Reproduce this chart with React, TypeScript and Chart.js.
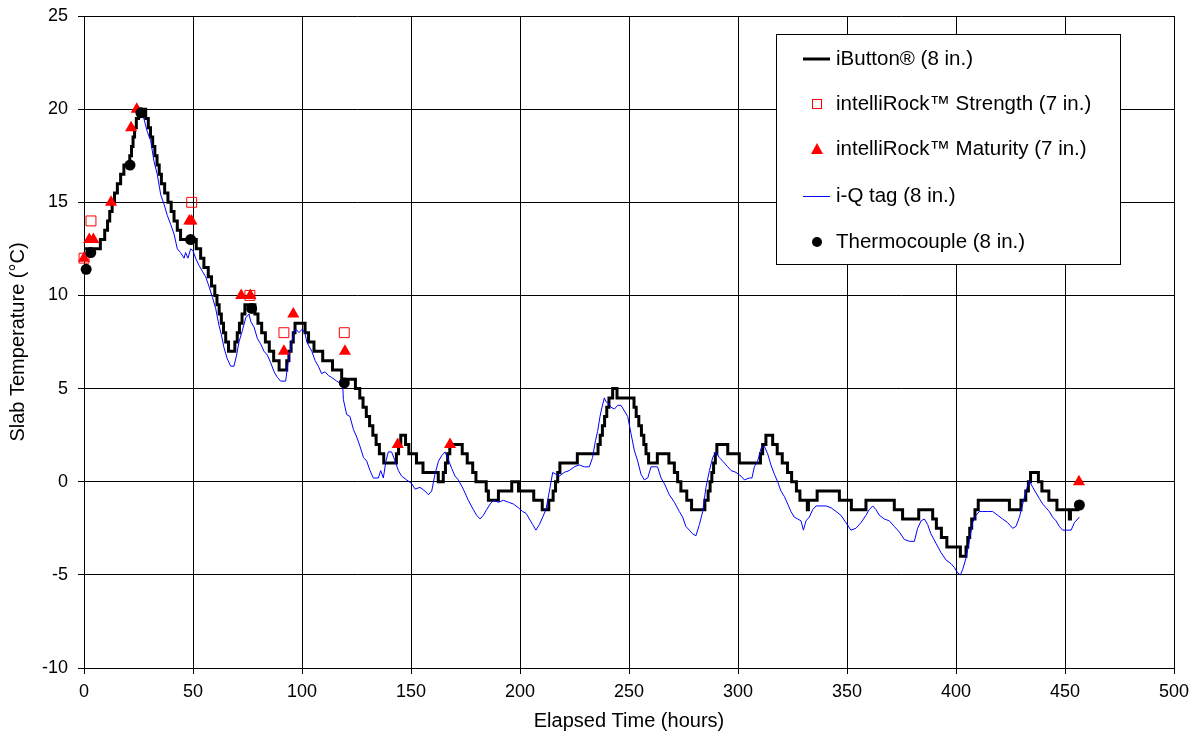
import React, { useEffect, useRef } from 'react';
import { Chart, registerables } from 'chart.js';

Chart.register(...registerables);

const FONT = 'Arial, "Liberation Sans", sans-serif';

// ---- Axis ranges / ticks ----
const xRange = [0, 500];
const xStep = 50;
const yRange = [-10, 25];
const yStep = 5;

// ---- Series names ----
const seriesNames = [
  'iButton® (8 in.)',
  'intelliRock™ Strength (7 in.)',
  'intelliRock™ Maturity (7 in.)',
  'i-Q tag (8 in.)',
  'Thermocouple (8 in.)',
];

// iButton (8 in.) — step changes: [hour, °C] (value held until next hour)
const iButtonSteps: [number, number][] = [
  [0.5, 12.5], [7.5, 13], [9.5, 13.5], [10.8, 14], [11.8, 14.5], [12.9, 15], [14, 15.5], [15.3, 16],
  [16.8, 16.5], [18.3, 17], [21, 17.5], [21.8, 18], [22.5, 18.5], [23.2, 19], [24, 19.5], [25, 20],
  [28.3, 19.5], [29.5, 19], [30.5, 18.5], [31.5, 18], [32.5, 17.5], [33.5, 17], [34.5, 16.5], [35.5, 16],
  [37, 15.5], [38.5, 15], [40, 14.5], [41.3, 14], [42.8, 13.5], [44.3, 13], [51.5, 12.5], [53.5, 12],
  [55, 11.5], [57, 11], [58.5, 10.5], [60, 10], [61, 9.5], [62, 9], [63, 8.5], [64, 8], [65, 7.5],
  [66.3, 7], [69.2, 7.5], [70.3, 8], [71.3, 8.5], [72.5, 9], [73.8, 9.5], [78.4, 9], [79.8, 8.5],
  [81.5, 8], [83.2, 7.5], [85, 7], [87, 6.5], [89.5, 6], [93, 6.5], [94, 7], [95, 7.5], [96, 8],
  [96.8, 8.5], [101.4, 8], [103, 7.5], [105.5, 7], [109.5, 6.5], [114, 6], [118.2, 5.5], [124.5, 5],
  [126.5, 4.5], [128, 4], [129.5, 3.5], [131, 3], [132.5, 2.5], [134, 2], [135.5, 1.5], [137.5, 1],
  [143.3, 1.5], [144.3, 2], [145.3, 2.5], [147.5, 2], [149, 1.5], [152.5, 1], [155.5, 0.5], [162.5, 0],
  [164.8, 0.5], [165.8, 1], [166.8, 1.5], [167.8, 2], [173.5, 1.5], [175.8, 1], [178.3, 0.5], [179.8, 0],
  [184.5, -0.5], [185.5, -1], [190.1, -0.5], [196.2, 0], [199.3, -0.5], [206.3, -1], [210.2, -1.5],
  [213.2, -1], [215.2, -0.5], [216.3, 0], [217.3, 0.5], [218.3, 1], [226.3, 1.5], [235.8, 2], [236.8, 2.5],
  [237.8, 3], [238.8, 3.5], [239.8, 4], [240.8, 4.5], [242.5, 5], [244.5, 4.5], [252.3, 4], [253.3, 3.5],
  [254.5, 3], [255.7, 2.5], [256.8, 2], [257.8, 1.5], [259, 1], [263, 1.5], [268.3, 1], [270.8, 0.5],
  [272.3, 0], [273.8, -0.5], [276.5, -1], [278.7, -1.5], [284.8, -1], [286.3, -0.5], [287.2, 0],
  [288, 0.5], [288.8, 1], [289.6, 1.5], [290.3, 2], [295.3, 1.5], [300.6, 1], [310.3, 1.5], [311.3, 2],
  [312.8, 2.5], [315.9, 2], [318, 1.5], [320.3, 1], [322.7, 0.5], [324.6, 0], [326.8, -0.5], [328.4, -1],
  [331.8, -1.5], [332.3, -1], [336.3, -0.5], [346.5, -1], [352, -1.5], [358.7, -1], [371.7, -1.5],
  [375.5, -2], [382.9, -1.5], [389.3, -2], [391, -2.5], [393.3, -3], [395.8, -3.5], [402, -4],
  [404.6, -3.5], [405.4, -3], [406.3, -2.5], [407.2, -2], [408.7, -1.5], [410.2, -1], [424.5, -1.5],
  [429.8, -1], [432, -0.5], [433.2, 0], [434.2, 0.5], [437.8, 0], [439.4, -0.5], [442.6, -1],
  [446.3, -1.5], [452, -2], [452.5, -1.5], [456.6, -1.5],
];

// intelliRock Strength (7 in.) — [hour, °C]
const strengthPoints: [number, number][] = [
  [0, 12], [3.2, 14], [49.4, 15], [76.1, 10], [91.7, 8], [119.4, 8],
];

// intelliRock Maturity (7 in.) — [hour, °C]
const maturityPoints: [number, number][] = [
  [0, 12], [2.4, 13], [4.3, 13], [12.4, 15], [21.6, 19], [24.2, 20], [48.3, 14], [49.3, 14],
  [72.1, 10], [76.3, 10], [91.7, 7], [96, 9], [119.7, 7], [143.9, 2], [167.9, 2], [456.4, 0],
];

// i-Q tag (8 in.) — [hour, °C]
const iqTagPoints: [number, number][] = [
  [27, 19.7], [29, 18.8], [30.6, 18.3], [32.1, 17.2], [33.6, 16.5], [35.2, 15.4], [36.7, 14.9],
  [38.2, 14.3], [39.8, 13.8], [41.3, 13.3], [42.8, 12.5], [44.3, 12.3], [45.9, 12.0], [46.6, 12.3],
  [47.7, 12.0], [48.9, 12.5], [50, 12.4], [51.2, 12.0], [52.8, 11.6], [54.3, 11.3], [55.8, 11.0],
  [57.3, 10.5], [58.9, 9.9], [60.4, 9.3], [61.9, 8.4], [63, 7.9], [64.2, 7.2], [65.7, 6.6], [67.3, 6.2],
  [68.8, 6.2], [70, 6.8], [71.1, 7.5], [72.6, 8.1], [74.2, 8.8], [75.7, 9.0], [76.5, 8.6], [78, 8.3],
  [79.5, 7.7], [81, 7.4], [82.6, 7.0], [84.1, 6.8], [85.6, 6.4], [87.2, 5.9], [88.7, 5.6], [90.2, 5.4],
  [92.5, 5.4], [93.6, 6.4], [94.8, 7.2], [96, 7.9], [97.1, 8.2], [98.6, 8.0], [100.2, 8.2], [101.5, 7.9],
  [102.2, 7.5], [104.5, 7.0], [106, 6.5], [107.5, 6.2], [109, 5.8], [110.6, 5.9], [112.1, 5.7],
  [113.6, 5.6], [115.9, 5.4], [117.4, 5.3], [118.7, 5.1], [119, 4.4], [120.5, 3.6], [122, 3.5],
  [123.6, 2.8], [125.1, 2.4], [126.6, 1.9], [128.2, 1.3], [129.7, 1.1], [131.2, 0.6], [132.7, 0.2],
  [135, 0.2], [136.1, 0.6], [137.3, 0.2], [138.5, 1.1], [139.6, 1.6], [141.1, 1.6], [142.7, 1.1],
  [144.2, 0.6], [145.7, 0.3], [148, 0.1], [150.3, -0.1], [151.9, -0.4], [154.1, -0.3], [156.4, -0.5],
  [158, -0.7], [159.5, -0.5], [161, 0.4], [162.6, 1.1], [164.1, 1.4], [165.6, 1.6], [167.1, 1.2],
  [168.7, 0.7], [170.2, 0.3], [171.7, 0.1], [174, -0.4], [176.3, -1.0], [178.6, -1.5], [180.1, -1.8],
  [181.7, -2.0], [183.2, -1.8], [184.7, -1.5], [186.3, -1.2], [187.8, -1.0], [190.1, -1.1], [192.4, -1.0],
  [194.7, -1.1], [197, -1.2], [199.3, -1.4], [201.2, -1.6], [202.8, -1.7], [204.3, -2.0], [205.8, -2.3],
  [207.3, -2.6], [208.9, -2.3], [210.4, -1.9], [211.9, -1.5], [213.5, -0.5], [215, 0.5], [216.5, 0.4],
  [218, 0.3], [220.3, 0.5], [222.6, 0.6], [224.9, 0.8], [227.2, 0.9], [229.5, 0.8], [231.8, 0.8],
  [233.3, 1.3], [234.6, 2.2], [235.6, 2.7], [236.7, 3.5], [237.6, 4.0], [238.7, 4.5], [239.4, 4.3],
  [240.7, 4.2], [241.7, 4.0], [243.3, 3.9], [244.8, 4.1], [246.3, 4.1], [247.9, 3.8], [249.4, 3.5],
  [250.9, 2.6], [252.4, 1.7], [254, 1.1], [255.5, 0.4], [257, 0.1], [258.6, 0.2], [260.1, 0.8],
  [261.6, 0.8], [263.1, 0.8], [264.7, 0.2], [266.2, -0.1], [268.5, -0.7], [270.8, -1.1], [273.1, -1.6],
  [274.6, -1.9], [276.1, -2.4], [277.7, -2.6], [279.2, -2.8], [280.7, -2.9], [282.3, -2.3], [283.8, -1.6],
  [285.3, -0.3], [286.9, 0.6], [288.4, 1.3], [289.9, 1.6], [291.4, 1.3], [293, 1.1], [295.3, 0.8],
  [296.8, 0.6], [299.1, 0.5], [301.4, 0.3], [302.9, 0.1], [305.2, 0.2], [306.4, 0.2], [307.5, 0.8],
  [309, 1.1], [310.6, 1.8], [312.1, 1.9], [313.6, 1.5], [315.1, 0.9], [316.7, 0.4], [318.2, 0],
  [319.7, -0.5], [321.3, -0.8], [322.8, -1.2], [324.3, -1.6], [325.8, -1.9], [327.4, -2.0], [328.9, -2.1],
  [330, -2.6], [331.2, -2.1], [332.7, -1.9], [334.3, -1.5], [335.8, -1.3], [338.1, -1.3], [340.4, -1.3],
  [342.7, -1.4], [345, -1.6], [347.2, -1.8], [349.5, -2.2], [351.8, -2.6], [354.1, -2.5], [356.4, -2.2],
  [358.7, -1.8], [360.2, -1.5], [361.8, -1.3], [363.3, -1.5], [364.8, -1.8], [367.1, -2.0], [369.4, -2.1],
  [371.7, -2.4], [374, -2.7], [376.3, -3.1], [378.6, -3.2], [380.9, -3.2], [382.4, -2.5], [384, -2.1],
  [385.5, -2.0], [387, -2.3], [388.5, -2.8], [390.8, -3.3], [393.1, -3.8], [395.4, -4.2], [397.7, -4.4],
  [399.2, -4.6], [400.8, -4.9], [402, -5.0], [403.1, -4.7], [404.6, -4.1], [406.1, -3.2], [407.6, -2.2],
  [409.2, -1.8], [410.7, -1.6], [412.2, -1.6], [414.5, -1.6], [416.8, -1.6], [419.1, -1.8], [421.4, -2.0],
  [423.7, -2.2], [426, -2.5], [427.5, -2.4], [429.1, -1.9], [430.6, -1.2], [432.1, -0.5], [433.6, 0.05],
  [435.2, -0.3], [436.7, -0.6], [438.2, -0.9], [439.8, -1.2], [441.3, -1.4], [442.8, -1.6], [444.3, -1.9],
  [445.9, -2.1], [447.4, -2.4], [448.9, -2.6], [450.5, -2.6], [452.8, -2.6], [454.3, -2.2], [456.6, -1.9],
];

// Thermocouple (8 in.) — [hour, °C]
const thermocouplePoints: [number, number][] = [
  [1, 11.4], [3.1, 12.3], [21.1, 17], [26.1, 19.8], [48.9, 13], [76.9, 9.3], [119.4, 5.3], [456.6, -1.25],
];

const toXY = (arr: [number, number][]) => arr.map(([x, y]) => ({ x, y }));

const legendBoxPlugin = {
  id: 'legendBox',
  afterDraw(chart: any) {
    const ctx: CanvasRenderingContext2D = chart.ctx;
    ctx.save();
    const bx = 776.5, by = 34.5, bw = 344, bh = 230;
    ctx.fillStyle = '#ffffff';
    ctx.fillRect(bx, by, bw, bh);
    ctx.strokeStyle = '#000000';
    ctx.lineWidth = 1;
    ctx.strokeRect(bx, by, bw, bh);
    const rows = [59, 104, 149, 196, 242];
    const mx = 817;
    // iButton line
    ctx.beginPath();
    ctx.strokeStyle = '#000';
    ctx.lineWidth = 3;
    ctx.moveTo(803, rows[0]);
    ctx.lineTo(830, rows[0]);
    ctx.stroke();
    // strength square
    ctx.lineWidth = 1;
    ctx.strokeStyle = '#ff0000';
    ctx.strokeRect(mx - 5 + 0.5, rows[1] - 5 + 0.5, 9, 9);
    // maturity triangle
    ctx.fillStyle = '#ff0000';
    ctx.beginPath();
    ctx.moveTo(mx, rows[2] - 6);
    ctx.lineTo(mx + 6, rows[2] + 5);
    ctx.lineTo(mx - 6, rows[2] + 5);
    ctx.closePath();
    ctx.fill();
    // i-Q line
    ctx.beginPath();
    ctx.strokeStyle = '#0000ff';
    ctx.lineWidth = 1;
    ctx.moveTo(803, rows[3] + 0.5);
    ctx.lineTo(830, rows[3] + 0.5);
    ctx.stroke();
    // thermocouple circle
    ctx.fillStyle = '#000';
    ctx.beginPath();
    ctx.arc(mx, rows[4], 5, 0, Math.PI * 2);
    ctx.fill();
    // texts
    ctx.fillStyle = '#000';
    ctx.font = '20.5px ' + FONT;
    ctx.textBaseline = 'middle';
    ctx.textAlign = 'left';
    seriesNames.forEach((name, i) => ctx.fillText(name, 836, rows[i]));
    ctx.restore();
  },
};

export default function App() {
  const ref = useRef<HTMLCanvasElement>(null);
  useEffect(() => {
    document.body.style.margin = '0';
    Chart.defaults.font.family = FONT;
    Chart.defaults.color = '#000';
    const chart = new Chart(ref.current as HTMLCanvasElement, {
      type: 'scatter',
      data: {
        datasets: [
          {
            label: seriesNames[4],
            data: toXY(thermocouplePoints),
            pointStyle: 'circle',
            pointRadius: 5.5,
            backgroundColor: '#000',
            borderColor: '#000',
            borderWidth: 0,
            showLine: false,
            clip: false,
            order: 0,
          } as any,
          {
            label: seriesNames[3],
            data: toXY(iqTagPoints),
            showLine: true,
            borderColor: '#0000ff',
            borderWidth: 1,
            pointRadius: 0,
            tension: 0,
            order: 1,
          } as any,
          {
            label: seriesNames[2],
            data: toXY(maturityPoints),
            pointStyle: 'triangle',
            pointRadius: 7,
            backgroundColor: '#ff0000',
            borderColor: '#ff0000',
            borderWidth: 0,
            showLine: false,
            clip: false,
            order: 2,
          } as any,
          {
            label: seriesNames[1],
            data: toXY(strengthPoints),
            pointStyle: 'rect',
            pointRadius: 7,
            backgroundColor: 'rgba(0,0,0,0)',
            borderColor: '#ff0000',
            borderWidth: 1,
            showLine: false,
            clip: false,
            order: 3,
          } as any,
          {
            label: seriesNames[0],
            data: toXY(iButtonSteps),
            showLine: true,
            stepped: 'before',
            borderColor: '#000',
            borderWidth: 3,
            pointRadius: 0,
            order: 4,
          } as any,
        ],
      },
      options: {
        responsive: false,
        animation: false,
        events: [],
        layout: { padding: { left: 0, top: 16, right: 24, bottom: 0 } },
        plugins: {
          legend: { display: false },
          tooltip: { enabled: false },
        },
        scales: {
          x: {
            type: 'linear',
            min: xRange[0],
            max: xRange[1],
            ticks: { stepSize: xStep, color: '#000', font: { size: 18 }, padding: 7, maxRotation: 0 },
            grid: { color: '#000', lineWidth: 1, tickLength: 6, tickColor: '#000' },
            border: { display: true, color: '#000', width: 1 },
            title: {
              display: true,
              text: 'Elapsed Time (hours)',
              color: '#000',
              font: { size: 20 },
              padding: { top: 2, bottom: 7 },
            },
            afterFit: (scale: any) => {
              scale.height = 72;
            },
          },
          y: {
            type: 'linear',
            min: yRange[0],
            max: yRange[1],
            ticks: { stepSize: yStep, color: '#000', font: { size: 18 }, padding: 10 },
            grid: { color: '#000', lineWidth: 1, tickLength: 6, tickColor: '#000' },
            border: { display: true, color: '#000', width: 1 },
            title: {
              display: true,
              text: 'Slab Temperature (°C)',
              color: '#000',
              font: { size: 20 },
              padding: { top: 6, bottom: 2 },
            },
            afterFit: (scale: any) => {
              scale.width = 84;
              scale.paddingTop = 0;
              scale.paddingBottom = 0;
            },
          },
        },
      } as any,
      plugins: [legendBoxPlugin],
    });
    return () => chart.destroy();
  }, []);
  return (
    <div style={{ position: 'fixed', left: 0, top: 0, width: 1198, height: 740, background: '#fff' }}>
      <canvas ref={ref} width={1198} height={740} style={{ display: 'block' }} />
    </div>
  );
}
